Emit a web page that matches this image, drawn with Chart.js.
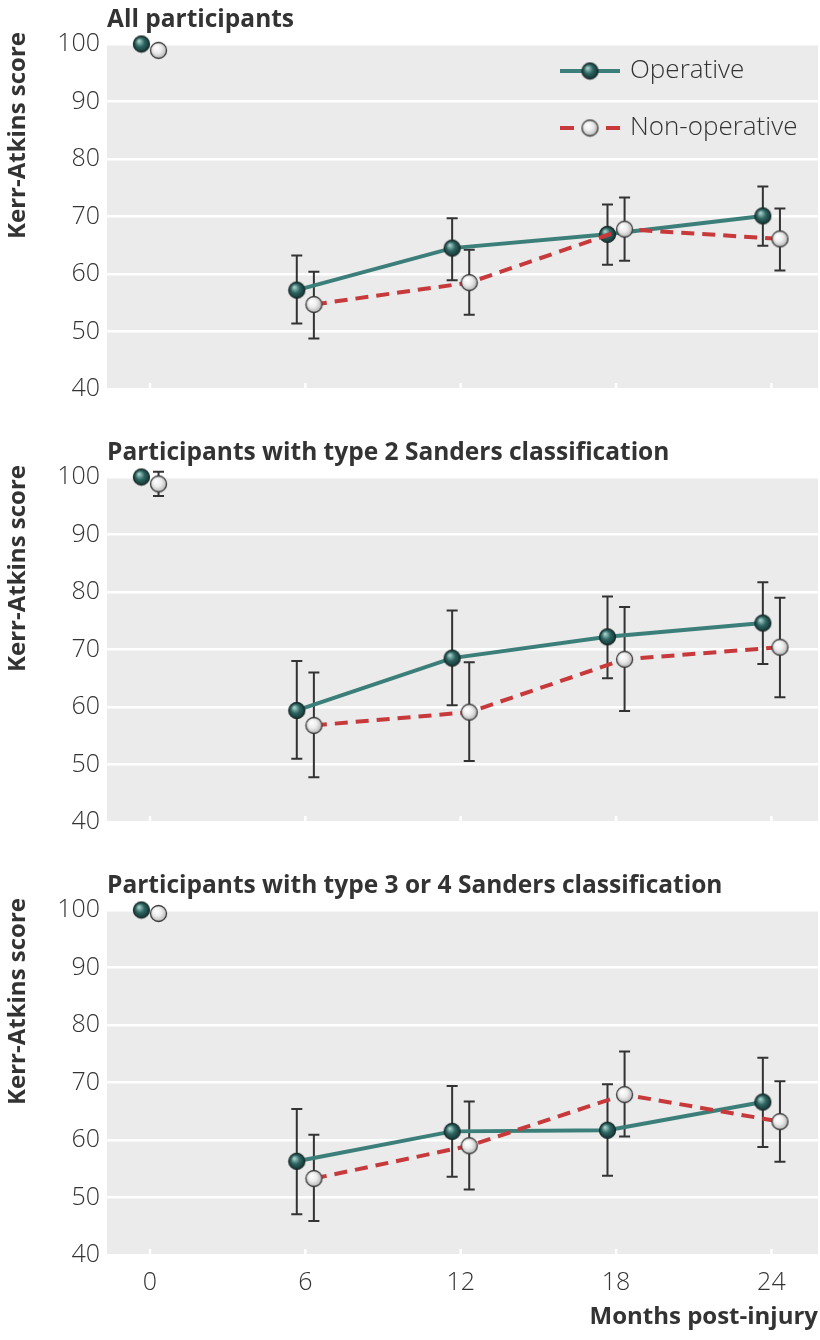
<!DOCTYPE html>
<html>
<head>
<meta charset="utf-8">
<script src="https://cdn.jsdelivr.net/npm/chart.js@4/dist/chart.umd.min.js"></script>
<style>
  body { margin: 0; background: #fff; }
  #wrap { position: relative; width: 820px; height: 1340px; }
  .panel { position: absolute; left: 0; width: 820px; }
</style>
</head>
<body>
<div id="wrap">
  <div class="panel" style="top:0"><canvas id="p1" width="820" height="433"></canvas></div>
  <div class="panel" style="top:433px"><canvas id="p2" width="820" height="433"></canvas></div>
  <div class="panel" style="top:866px"><canvas id="p3" width="820" height="474"></canvas></div>
</div>
<script>
// months after injury (x categories) and tick labels
const months = [0, 6, 12, 18, 24];
const xTicks = [0, 6, 12, 18, 24];
const yTicks = [40, 50, 60, 70, 80, 90, 100];

// All participants
const allOp = [100, 57.2, 64.5, 66.9, 70.1];
const allOpLo = [null, 51.4, 58.9, 61.6, 64.9];
const allOpHi = [null, 63.2, 69.7, 72.1, 75.2];
const allNon = [98.9, 54.7, 58.5, 67.8, 66.1];
const allNonLo = [null, 48.8, 52.9, 62.3, 60.6];
const allNonHi = [null, 60.4, 64.2, 73.3, 71.4];

// type 2 Sanders classification
const t2Op = [100, 59.4, 68.5, 72.2, 74.6];
const t2OpLo = [null, 51.0, 60.3, 65.0, 67.5];
const t2OpHi = [null, 68.0, 76.8, 79.2, 81.7];
const t2Non = [98.8, 56.8, 59.1, 68.3, 70.4];
const t2NonLo = [96.7, 47.8, 50.6, 59.3, 61.7];
const t2NonHi = [100.9, 66.0, 67.8, 77.4, 79.0];

// type 3 or 4 Sanders classification
const t34Op = [100, 56.3, 61.5, 61.7, 66.6];
const t34OpLo = [null, 47.1, 53.6, 53.8, 58.8];
const t34OpHi = [null, 65.4, 69.4, 69.7, 74.3];
const t34Non = [99.4, 53.3, 59.0, 67.9, 63.2];
const t34NonLo = [null, 45.9, 51.4, 60.6, 56.2];
const t34NonHi = [null, 60.9, 66.7, 75.4, 70.2];

const TEAL = '#3c7f7a';
const RED = '#c8393b';
const INK = '#333333';
const FONT = '"Open Sans", "Noto Sans", sans-serif';
const DODGE = 0.33;

const makeBall = (light, base, dark, edge) => {
  const c = document.createElement('canvas');
  c.width = c.height = 19;
  const g = c.getContext('2d');
  const grad = g.createRadialGradient(7, 6.5, 0.5, 9.5, 9.5, 9.5);
  grad.addColorStop(0, light);
  grad.addColorStop(0.45, base);
  grad.addColorStop(1, dark);
  g.beginPath();
  g.arc(9.5, 9.5, 8, 0, Math.PI * 2);
  g.fillStyle = grad;
  g.fill();
  g.lineWidth = 1.3;
  g.strokeStyle = edge;
  g.stroke();
  return c;
};

const opBall = makeBall('#a9d2cd', '#2d6461', '#0e2a28', '#1a2b2a');
const nonBall = makeBall('#ffffff', '#ececec', '#a4a4a4', '#3a3a3a');

const toPoints = (vals, shift) => vals.map((v, i) => ({ x: months[i] + shift, y: v }));

const panelPlugin = {
  id: 'panel',
  beforeDraw(chart) {
    const { ctx, chartArea: a } = chart;
    ctx.save();
    ctx.fillStyle = '#ebebeb';
    ctx.fillRect(a.left, a.top, a.right - a.left, a.bottom - a.top);
    ctx.restore();
  },
  beforeDatasetsDraw(chart) {
    const { ctx, chartArea: a, scales } = chart;
    ctx.save();
    // little white ticks at the bottom
    ctx.strokeStyle = '#ffffff';
    ctx.lineWidth = 2.5;
    xTicks.forEach(t => {
      const x = scales.x.getPixelForValue(t);
      ctx.beginPath();
      ctx.moveTo(x, a.bottom);
      ctx.lineTo(x, a.bottom - 6);
      ctx.stroke();
    });
    // error bars
    ctx.strokeStyle = INK;
    ctx.lineWidth = 2;
    chart.data.datasets.forEach((ds, i) => {
      const meta = chart.getDatasetMeta(i);
      meta.data.forEach((pt, j) => {
        const lo = ds.errLo[j], hi = ds.errHi[j];
        if (lo == null || hi == null) return;
        const y1 = scales.y.getPixelForValue(lo);
        const y2 = scales.y.getPixelForValue(hi);
        ctx.beginPath();
        ctx.moveTo(pt.x, y1); ctx.lineTo(pt.x, y2);
        ctx.moveTo(pt.x - 5.5, y1); ctx.lineTo(pt.x + 5.5, y1);
        ctx.moveTo(pt.x - 5.5, y2); ctx.lineTo(pt.x + 5.5, y2);
        ctx.stroke();
      });
    });
    ctx.restore();
  },
  afterDraw(chart, args, opts) {
    const { ctx, chartArea: a } = chart;
    ctx.save();
    ctx.fillStyle = INK;
    ctx.font = `bold 24.5px ${FONT}`;
    ctx.textBaseline = 'alphabetic';
    ctx.textAlign = 'left';
    ctx.fillText(opts.title, a.left, a.top - 17);
    // y axis title
    ctx.translate(25, 32 + (a.top - 44));
    ctx.rotate(-Math.PI / 2);
    ctx.textAlign = 'right';
    ctx.font = `bold 24px ${FONT}`;
    ctx.fillText('Kerr-Atkins score', 0, 0);
    ctx.restore();

    if (opts.legend) {
      ctx.save();
      ctx.lineWidth = 4;
      ctx.strokeStyle = TEAL;
      ctx.beginPath(); ctx.moveTo(560, 71); ctx.lineTo(620, 71); ctx.stroke();
      ctx.drawImage(opBall, 580.5, 61.5);
      ctx.strokeStyle = RED;
      ctx.beginPath();
      ctx.moveTo(560, 128); ctx.lineTo(574, 128);
      ctx.moveTo(606, 128); ctx.lineTo(620, 128);
      ctx.stroke();
      ctx.drawImage(nonBall, 580.5, 118.5);
      ctx.fillStyle = INK;
      ctx.font = `300 26px ${FONT}`;
      ctx.textBaseline = 'middle';
      ctx.fillText('Operative', 630, 71);
      ctx.fillText('Non-operative', 630, 128);
      ctx.restore();
    }
  }
};

const makePanel = (id, title, op, opLo, opHi, non, nonLo, nonHi, opts) => {
  const hideFirst = ctx => (ctx.p0DataIndex === 0 ? 'rgba(0,0,0,0)' : undefined);
  return new Chart(document.getElementById(id), {
    type: 'line',
    data: {
      datasets: [{
        label: 'Non-operative',
        data: toPoints(non, DODGE),
        errLo: nonLo,
        errHi: nonHi,
        borderColor: RED,
        borderWidth: 4,
        borderDash: [13, 8],
        pointStyle: nonBall,
        pointRadius: 9,
        clip: false,
        segment: { borderColor: hideFirst }
      }, {
        label: 'Operative',
        data: toPoints(op, -DODGE),
        errLo: opLo,
        errHi: opHi,
        borderColor: TEAL,
        borderWidth: 4,
        pointStyle: opBall,
        pointRadius: 9,
        clip: false,
        segment: { borderColor: hideFirst }
      }]
    },
    options: {
      responsive: false,
      animation: false,
      layout: { autoPadding: false, padding: { top: 44, left: 0, right: 2, bottom: opts.xLabels ? 0 : 44 } },
      plugins: {
        legend: { display: false },
        tooltip: { enabled: false },
        panel: { title, legend: opts.legend }
      },
      scales: {
        x: {
          type: 'linear',
          min: -1.66,
          max: 25.8,
          display: opts.xLabels,
          afterBuildTicks: s => { s.ticks = xTicks.map(v => ({ value: v })); },
          afterFit: s => { s.height = opts.xLabels ? 85 : 0; },
          grid: { display: false },
          border: { display: false },
          ticks: { padding: 5, color: INK, font: { family: FONT, size: 25, weight: 300 } },
          title: {
            display: true,
            text: 'Months post-injury',
            align: 'end',
            color: INK,
            padding: { top: 0, bottom: 8 },
            font: { family: FONT, size: 24, weight: 'bold' }
          }
        },
        y: {
          min: 40,
          max: 100,
          afterBuildTicks: s => { s.ticks = yTicks.map(v => ({ value: v })); },
          afterFit: s => { s.width = 107; },
          grid: { color: '#ffffff', lineWidth: 2.5, drawTicks: false },
          border: { display: false },
          ticks: { padding: 7, color: INK, font: { family: FONT, size: 25, weight: 300 } }
        }
      }
    },
    plugins: [panelPlugin]
  });
};

makePanel('p1', 'All participants', allOp, allOpLo, allOpHi, allNon, allNonLo, allNonHi,
  { legend: true, xLabels: false });
makePanel('p2', 'Participants with type 2 Sanders classification', t2Op, t2OpLo, t2OpHi, t2Non, t2NonLo, t2NonHi,
  { legend: false, xLabels: false });
makePanel('p3', 'Participants with type 3 or 4 Sanders classification', t34Op, t34OpLo, t34OpHi, t34Non, t34NonLo, t34NonHi,
  { legend: false, xLabels: true });
</script>
</body>
</html>
